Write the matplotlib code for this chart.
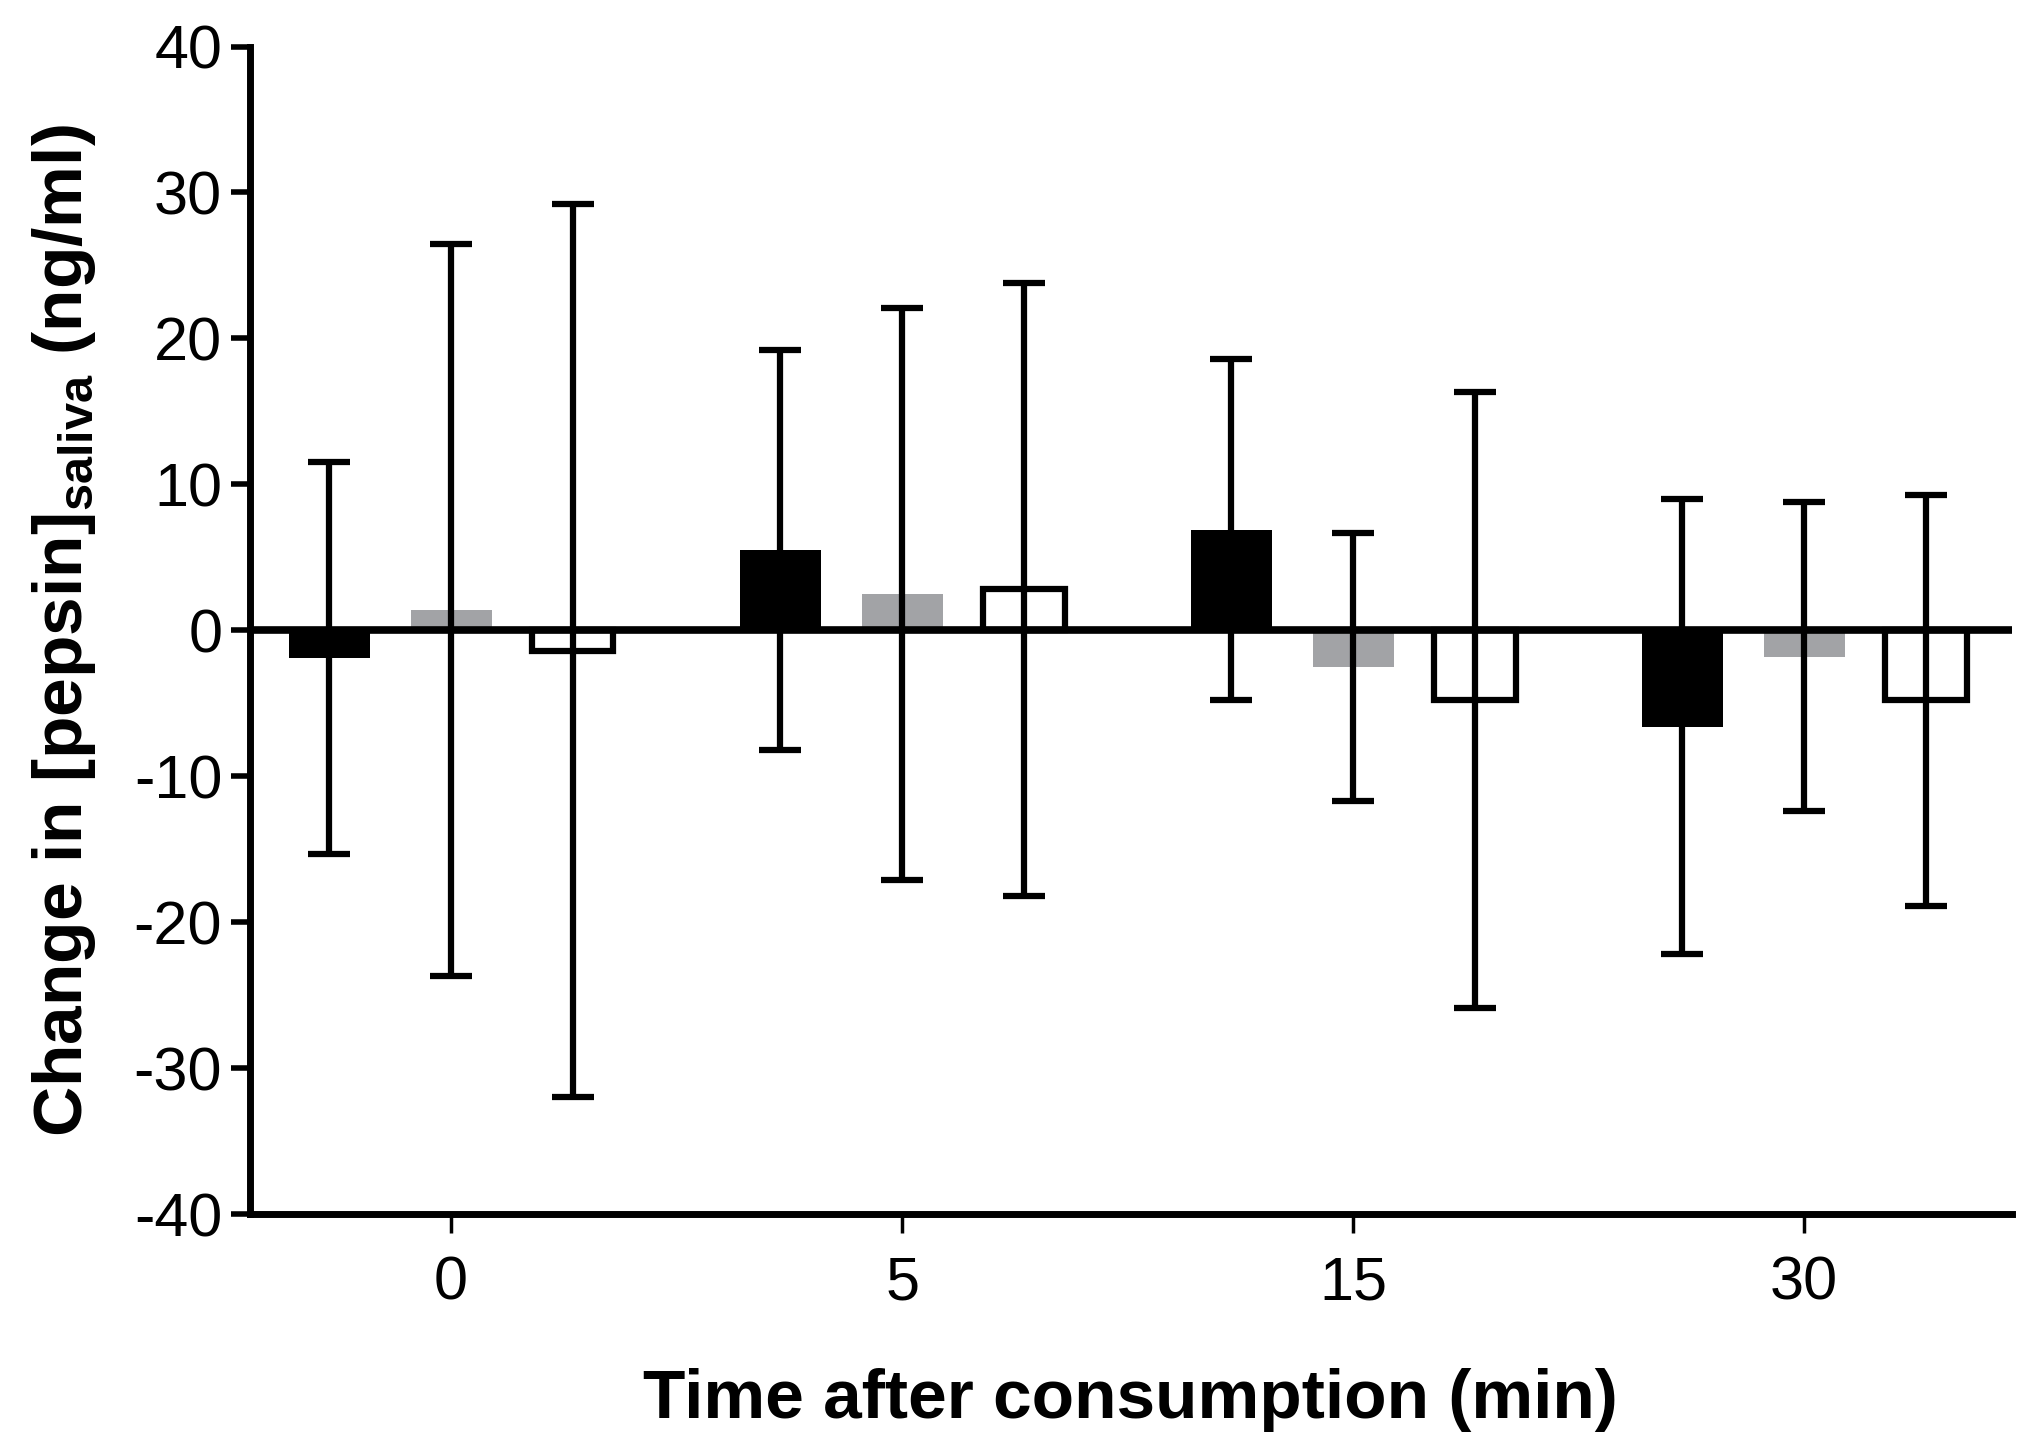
import matplotlib.pyplot as plt
import numpy as np

plt.rcParams['font.family'] = ['Liberation Sans', 'DejaVu Sans']
plt.rcParams['mathtext.fontset'] = 'custom'
plt.rcParams['mathtext.bf'] = 'Liberation Sans:bold'
plt.rcParams['mathtext.rm'] = 'Liberation Sans'
plt.rcParams['axes.unicode_minus'] = False

times = ['0', '5', '15', '30']

# three groups per time point: black, grey, white (mean and SD)
black_mean = [-1.9, 5.5, 6.9, -6.6]
black_sd = [13.4, 13.7, 11.7, 15.6]
grey_mean = [1.4, 2.5, -2.5, -1.8]
grey_sd = [25.1, 19.6, 9.2, 10.6]
white_mean = [-1.4, 2.8, -4.8, -4.8]
white_sd = [30.6, 21.0, 21.1, 14.1]

fig = plt.figure(figsize=(20.32, 14.54), dpi=100)
ax = fig.add_axes([0.123, 0.165, 0.867, 0.803])

x = np.arange(len(times))
w = 0.18
off = 0.27
lw = 4.5

ax.bar(x - off, black_mean, w, color='black', zorder=2)
ax.bar(x, grey_mean, w, color='#a2a3a6', zorder=2)
ax.bar(x + off, white_mean, w, color='white', edgecolor='black', linewidth=lw, zorder=2)

for xs, m, s in [(x - off, black_mean, black_sd), (x, grey_mean, grey_sd), (x + off, white_mean, white_sd)]:
    ax.errorbar(xs, m, yerr=s, fmt='none', ecolor='black', elinewidth=lw,
                capsize=15, capthick=lw, zorder=3)

ax.axhline(0, color='black', linewidth=5.5, zorder=4)

ax.set_xlim(-0.446, 3.46)
ax.set_ylim(-40, 40)
ax.set_yticks(np.arange(-40, 41, 10))
ax.set_xticks(x)
ax.set_xticklabels(times)

for side in ['top', 'right']:
    ax.spines[side].set_visible(False)
for side in ['left', 'bottom']:
    ax.spines[side].set_linewidth(5)

ax.tick_params(axis='y', direction='out', length=14, width=4, labelsize=44, pad=6)
ax.tick_params(axis='x', direction='out', length=14, width=2.5, labelsize=44, pad=16)

ax.set_ylabel(r'Change in [pepsin]$_\mathbf{saliva}$ (ng/ml)', fontsize=50,
              fontweight='bold', labelpad=26)
ax.set_xlabel('Time after consumption (min)', fontsize=50, fontweight='bold',
              labelpad=40)

fig.savefig('out.png', dpi=100)
